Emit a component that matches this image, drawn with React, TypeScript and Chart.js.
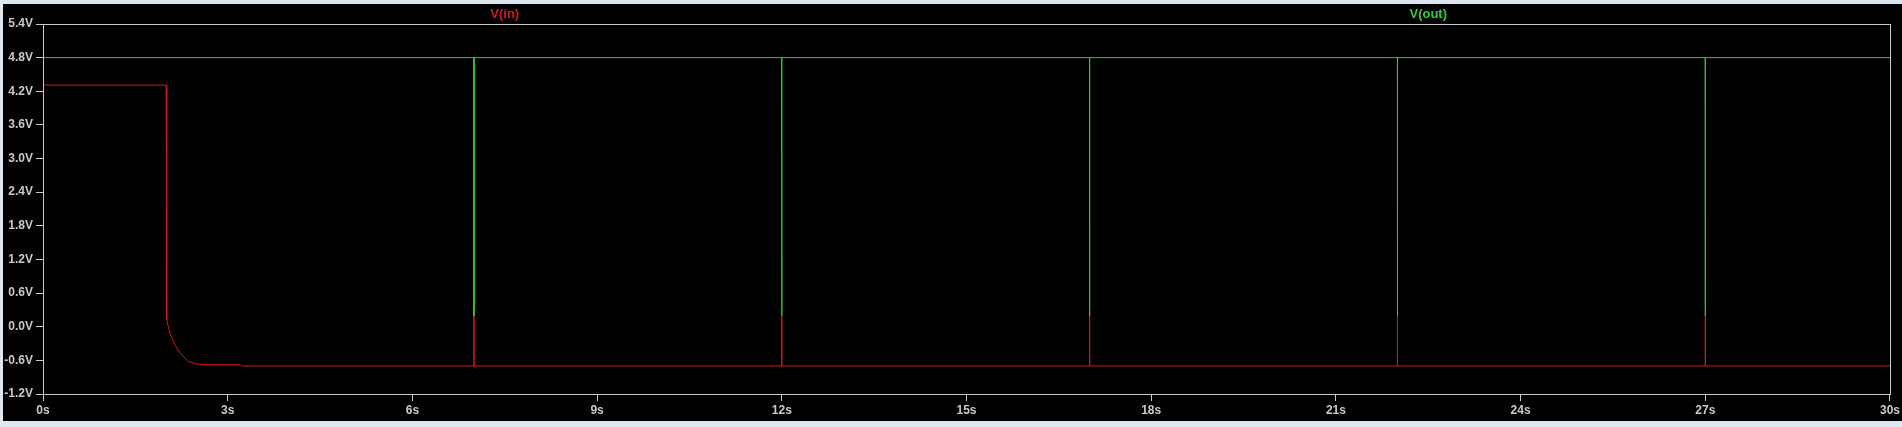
import React, { useEffect, useRef } from "react";
import { Chart, registerables } from "chart.js";

Chart.register(...registerables);

const vInTimes = [0, 2.0, 2.01, 2.063, 2.144, 2.225, 2.36, 2.5, 2.6, 3.2, 3.23, 6.999, 7.0, 7.001, 11.999, 12.0, 12.001, 16.999, 17.0, 17.001, 21.999, 22.0, 22.001, 26.999, 27.0, 27.001, 30];
const vInValues = [4.31, 4.31, 0.12, -0.12, -0.33, -0.47, -0.62, -0.665, -0.677, -0.677, -0.70, -0.70, 0.19, -0.70, -0.70, 0.19, -0.70, -0.70, 0.19, -0.70, -0.70, 0.19, -0.70, -0.70, 0.19, -0.70, -0.70];

const vOutTimes = [0, 6.999, 7.0, 7.001, 11.999, 12.0, 12.001, 16.999, 17.0, 17.001, 21.999, 22.0, 22.001, 26.999, 27.0, 27.001, 30];
const vOutValues = [4.8, 4.8, 0.19, 4.8, 4.8, 0.19, 4.8, 4.8, 0.19, 4.8, 4.8, 0.19, 4.8, 4.8, 0.19, 4.8, 4.8];

const seriesNames = ["V(in)", "V(out)"];
const seriesColors = ["rgb(210,25,25)", "rgb(50,205,50)"];

const xMin = 0, xMax = 30, xStep = 3;
const yMin = -1.2, yMax = 5.4, yStep = 0.6;

const FONT = "'Liberation Sans', Arial, sans-serif";
const AXIS = "rgb(200,200,200)";

export default function App() {
  const ref = useRef<HTMLCanvasElement | null>(null);

  useEffect(() => {
    document.body.style.margin = "0";
    document.body.style.overflow = "hidden";
    const canvas = ref.current;
    if (!canvas) return;

    const boxPlugin = {
      id: "boxAndLabels",
      beforeDraw(chart: any) {
        const ctx = chart.ctx;
        ctx.save();
        ctx.fillStyle = "#000";
        ctx.fillRect(0, 0, chart.width, chart.height);
        ctx.restore();
      },
      afterDraw(chart: any) {
        const { ctx, chartArea } = chart;
        ctx.save();
        ctx.strokeStyle = AXIS;
        ctx.lineWidth = 1;
        ctx.strokeRect(
          Math.round(chartArea.left) + 0.5,
          Math.round(chartArea.top) + 0.5,
          Math.round(chartArea.right - chartArea.left),
          Math.round(chartArea.bottom - chartArea.top)
        );
        ctx.font = `bold 13px ${FONT}`;
        ctx.textAlign = "center";
        ctx.textBaseline = "middle";
        const w = chartArea.right - chartArea.left;
        seriesNames.forEach((name, i) => {
          ctx.fillStyle = seriesColors[i];
          ctx.fillText(name, chartArea.left + w * (0.25 + 0.5 * i), 14);
        });
        ctx.restore();
      },
    };

    const chart = new Chart(canvas, {
      type: "line",
      data: {
        datasets: [
          {
            label: seriesNames[0],
            data: vInTimes.map((t, i) => ({ x: t, y: vInValues[i] })),
            borderColor: seriesColors[0],
            borderWidth: 1,
            pointRadius: 0,
            tension: 0,
            fill: false,
          },
          {
            label: seriesNames[1],
            data: vOutTimes.map((t, i) => ({ x: t, y: vOutValues[i] })),
            borderColor: seriesColors[1],
            borderWidth: 1,
            pointRadius: 0,
            tension: 0,
            fill: false,
          },
        ],
      },
      plugins: [boxPlugin],
      options: {
        animation: false,
        responsive: false,
        events: [],
        layout: { padding: { left: 0, top: 24, right: 12, bottom: 0 } },
        plugins: { legend: { display: false }, tooltip: { enabled: false } },
        scales: {
          x: {
            type: "linear",
            min: xMin,
            max: xMax,
            afterFit(scale: any) {
              scale.height = 33;
            },
            ticks: {
              stepSize: xStep,
              color: AXIS,
              font: { family: FONT, size: 12, weight: "bold" },
              padding: 2,
              maxRotation: 0,
              autoSkip: false,
              callback: (v: any) => `${Math.round(Number(v))}s`,
            },
            grid: { drawOnChartArea: false, drawTicks: true, tickLength: 7, color: AXIS },
            border: { display: true, color: AXIS },
          },
          y: {
            type: "linear",
            min: yMin,
            max: yMax,
            afterFit(scale: any) {
              scale.width = 43;
            },
            ticks: {
              stepSize: yStep,
              color: AXIS,
              font: { family: FONT, size: 12, weight: "bold" },
              padding: 3,
              autoSkip: false,
              callback: (v: any) => {
                let n = Number(v);
                if (Math.abs(n) < 1e-9) n = 0;
                return `${n.toFixed(1)}V`;
              },
            },
            grid: { drawOnChartArea: false, drawTicks: true, tickLength: 7, color: AXIS },
            border: { display: true, color: AXIS },
          },
        },
      },
    });
    return () => chart.destroy();
  }, []);

  return (
    <div style={{ position: "relative", width: 1902, height: 427, background: "#000", overflow: "hidden" }}>
      <canvas ref={ref} width={1902} height={427} style={{ display: "block" }} />
      <div style={{ position: "absolute", left: 0, top: 0, width: 1902, height: 4, background: "rgb(221,229,238)" }} />
      <div style={{ position: "absolute", left: 0, top: 0, width: 3, height: 427, background: "rgb(224,230,238)" }} />
      <div style={{ position: "absolute", left: 0, top: 421, width: 1902, height: 6, background: "rgb(222,232,242)" }} />
    </div>
  );
}
